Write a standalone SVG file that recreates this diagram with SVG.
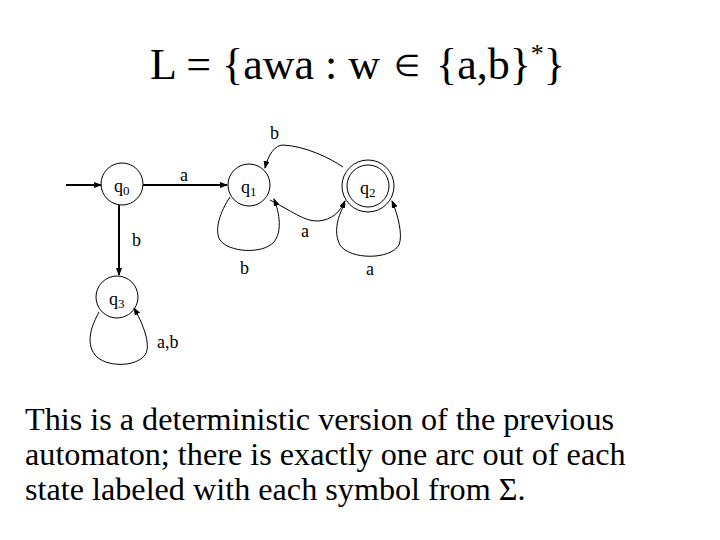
<svg xmlns="http://www.w3.org/2000/svg" width="720" height="540" viewBox="0 0 720 540">
<defs>
<marker id="ah" markerWidth="8" markerHeight="6" refX="7" refY="3" orient="auto" markerUnits="userSpaceOnUse">
<path d="M0,0 L8,3 L0,6 Z" fill="#000"/>
</marker>
<style>
.st{fill:none;stroke:#000;stroke-width:1}
.lbl{font-family:"Liberation Serif","Times New Roman",serif;font-size:18px;fill:#000}
.sub{font-size:13px}
.e{fill:none;stroke:#000;stroke-width:1}
.eb{fill:none;stroke:#000;stroke-width:2}
.big{font-family:"Liberation Serif","Times New Roman",serif;fill:#000}
</style>
</defs>
<rect width="720" height="540" fill="#fff"/>
<text class="big" x="150" y="79" font-size="44">L = {awa : w <tspan font-size="30" dy="-3" dx="3">∈</tspan><tspan dy="3" dx="5"> {a,b}</tspan><tspan font-size="26" dy="-17">*</tspan><tspan dy="17">}</tspan></text>

<g id="connectors">
<line class="eb" x1="66" y1="185" x2="101" y2="185" marker-end="url(#ah)"/>
<line class="eb" x1="143" y1="185" x2="227" y2="185" marker-end="url(#ah)"/>
<line class="eb" x1="119" y1="205" x2="119" y2="275" marker-end="url(#ah)"/>
<path class="e" d="M230,197 C220,212 214,230 220,240 C228,252 262,255 274,242 C282,232 280,214 274,199" marker-end="url(#ah)"/>
<path class="e" d="M270,200 C290,210 305,222 318,221 C332,220 340,212 345,201" marker-end="url(#ah)"/>
<path class="e" d="M343,167 C330,158 305,146 283,145 C275,145 268,155 265,168" marker-end="url(#ah)"/>
<path class="e" d="M345,204 C338,215 333,232 340,245 C350,260 390,260 399,245 C403,235 398,215 392,201" marker-end="url(#ah)"/>
<path class="e" d="M99,312 C92,325 85,342 95,355 C105,367 135,368 145,355 C152,345 142,322 134,308" marker-end="url(#ah)"/>
</g>

<g id="q0"><circle class="st" cx="122" cy="184" r="21"/><text class="lbl" x="114" y="192">q<tspan class="sub" dy="3">0</tspan></text></g>
<g id="q1"><circle class="st" cx="249" cy="185" r="21"/><text class="lbl" x="241" y="193">q<tspan class="sub" dy="3">1</tspan></text></g>
<g id="q2"><circle class="st" cx="368" cy="186" r="26"/><circle class="st" cx="368" cy="186" r="21"/><text class="lbl" x="360" y="194">q<tspan class="sub" dy="3">2</tspan></text></g>
<g id="q3"><circle class="st" cx="117" cy="297" r="21"/><text class="lbl" x="109" y="305">q<tspan class="sub" dy="3">3</tspan></text></g>

<g id="labels">
<text class="lbl" x="180" y="181">a</text>
<text class="lbl" x="132" y="246">b</text>
<text class="lbl" x="270" y="139">b</text>
<text class="lbl" x="301" y="237">a</text>
<text class="lbl" x="240" y="274">b</text>
<text class="lbl" x="366" y="275">a</text>
<text class="lbl" x="157" y="348">a,b</text>
</g>

<g class="big" font-size="32.2">
<text x="25" y="430">This is a deterministic version of the previous</text>
<text x="25" y="465">automaton; there is exactly one arc out of each</text>
<text x="25" y="500">state labeled with each symbol from Σ.</text>
</g>
</svg>
